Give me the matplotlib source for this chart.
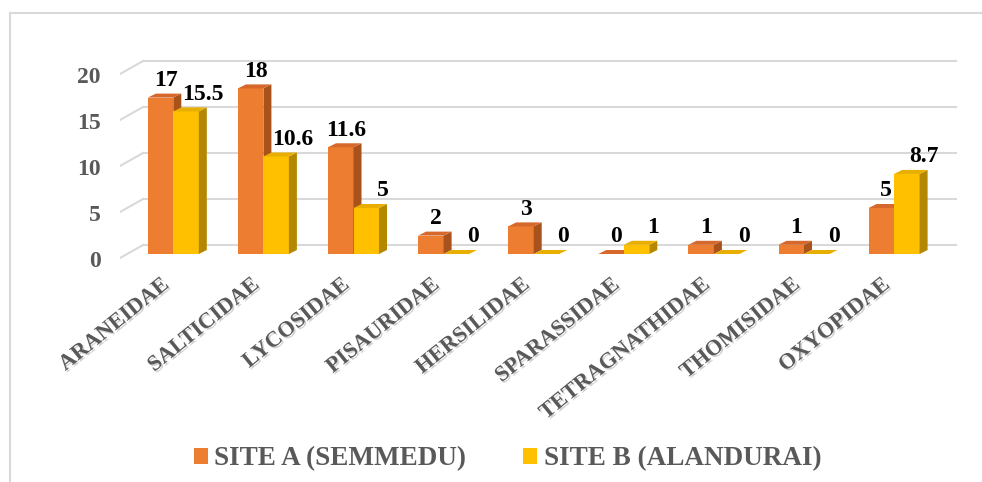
import matplotlib
matplotlib.use("Agg")
import matplotlib.pyplot as plt
from matplotlib.patches import Polygon, Patch
from matplotlib.lines import Line2D
import matplotlib.transforms as mtransforms
import matplotlib.patheffects as pe

# ---- data ----
families = ["ARANEIDAE", "SALTICIDAE", "LYCOSIDAE", "PISAURIDAE", "HERSILIDAE",
            "SPARASSIDAE", "TETRAGNATHIDAE", "THOMISIDAE", "OXYOPIDAE"]
site_a = [17, 18, 11.6, 2, 3, 0, 1, 1, 5]
site_b = [15.5, 10.6, 5, 0, 0, 1, 0, 0, 8.7]
series_names = ["SITE A (SEMMEDU)", "SITE B (ALANDURAI)"]
y_ticks = [0, 5, 10, 15, 20]

# ---- style ----
FONT = "Liberation Serif"
TXT = "#595959"
GRID = "#d9d9d9"
front_cols = ["#ED7D31", "#FFC000"]
side_cols = ["#A9521C", "#B38700"]
top_cols = ["#D5682A", "#E8AE00"]

W, H = 982, 482
fig = plt.figure(figsize=(W / 100, H / 100), dpi=100)
fig.patch.set_facecolor("white")

# chart border (left and top visible)
fig.add_artist(Line2D([9.5 / W, 9.5 / W], [0, 1 - 13 / H], color=GRID, lw=1.5))
fig.add_artist(Line2D([9.5 / W, 1], [1 - 13 / H, 1 - 13 / H], color=GRID, lw=1.5))

ax_l, ax_r, ax_t, ax_b = 120, 960, 55, 262
ax = fig.add_axes([ax_l / W, 1 - ax_b / H, (ax_r - ax_l) / W, (ax_b - ax_t) / H])
px_unit = 90.1
x0_px = 173.3
y_scale = 9.2
ax.set_xlim((ax_l - x0_px) / px_unit, (ax_r - x0_px) / px_unit)
ax.set_ylim(-(ax_b - 254) / y_scale, (254 - ax_t) / y_scale)
for s in ax.spines.values():
    s.set_visible(False)
ax.patch.set_visible(False)

# back wall gridlines + floor diagonals
wall_dy = 9 / y_scale
wall_x0 = (143 - x0_px) / px_unit
wall_x1 = (956 - x0_px) / px_unit
diag_x0 = (ax_l - x0_px) / px_unit
for t in y_ticks:
    ax.plot([wall_x0, wall_x1], [t + wall_dy, t + wall_dy], color=GRID, lw=1.5, zorder=0)
    ax.plot([diag_x0, wall_x0], [t - 4 / y_scale, t + wall_dy], color=GRID, lw=1.5, zorder=0)

# 3D-ish bars
w = 25.5 / px_unit
ddx = 8 / px_unit
ddy = 4 / y_scale
label_dx = [5 / px_unit, 17 / px_unit]
n = len(families)
for i in range(n):
    for s, vals in enumerate([site_a, site_b]):
        v = vals[i]
        x = i - w if s == 0 else i
        ax.bar(x, v, width=w, align="edge", color=front_cols[s], lw=0, zorder=2 + i * 2 + s)
        side = Polygon([(x + w, 0), (x + w + ddx, ddy), (x + w + ddx, v + ddy), (x + w, v)],
                       closed=True, facecolor=side_cols[s], lw=0, zorder=2 + i * 2 + s)
        top = Polygon([(x, v), (x + w, v), (x + w + ddx, v + ddy), (x + ddx, v + ddy)],
                      closed=True, facecolor=top_cols[s], lw=0, zorder=2 + i * 2 + s)
        ax.add_patch(side)
        ax.add_patch(top)
        ax.annotate(f"{v:g}", xy=(x + w / 2 + label_dx[s], v + ddy), xytext=(0, 2),
                    textcoords="offset points", ha="center", va="bottom",
                    fontsize=17, fontweight="bold", family=FONT, color="black", zorder=40)

# y ticks
ax.set_yticks(y_ticks)
ax.set_yticklabels([str(t) for t in y_ticks], fontsize=17, fontweight="bold",
                   family=FONT, color=TXT)
ax.tick_params(axis="y", length=0, pad=14)
off = mtransforms.ScaledTranslation(0, -5 / 100, fig.dpi_scale_trans)
for lab in ax.get_yticklabels():
    lab.set_transform(lab.get_transform() + off)

# x ticks
shadow = [pe.withSimplePatchShadow(offset=(1.2, -1.2), shadow_rgbFace="#9a9a9a", alpha=0.45)]
ax.set_xticks(range(n))
ax.set_xticklabels(families, rotation=39, ha="right", va="top", fontsize=16,
                   fontweight="bold", family=FONT, color=TXT)
for lab in ax.get_xticklabels():
    lab.set_path_effects(shadow)
ax.tick_params(axis="x", length=0, pad=9)

# legend
handles = [Patch(facecolor=front_cols[k], edgecolor="none") for k in range(2)]
leg = fig.legend(handles, series_names, loc="center", bbox_to_anchor=(0.517, 1 - 459 / H),
                 ncol=2, frameon=False, handlelength=0.5, handleheight=0.5,
                 handletextpad=0.25, columnspacing=2.1,
                 prop={"family": FONT, "weight": "bold", "size": 19.5})
for t in leg.get_texts():
    t.set_color(TXT)

fig.savefig("out.png", dpi=100, facecolor="white")
